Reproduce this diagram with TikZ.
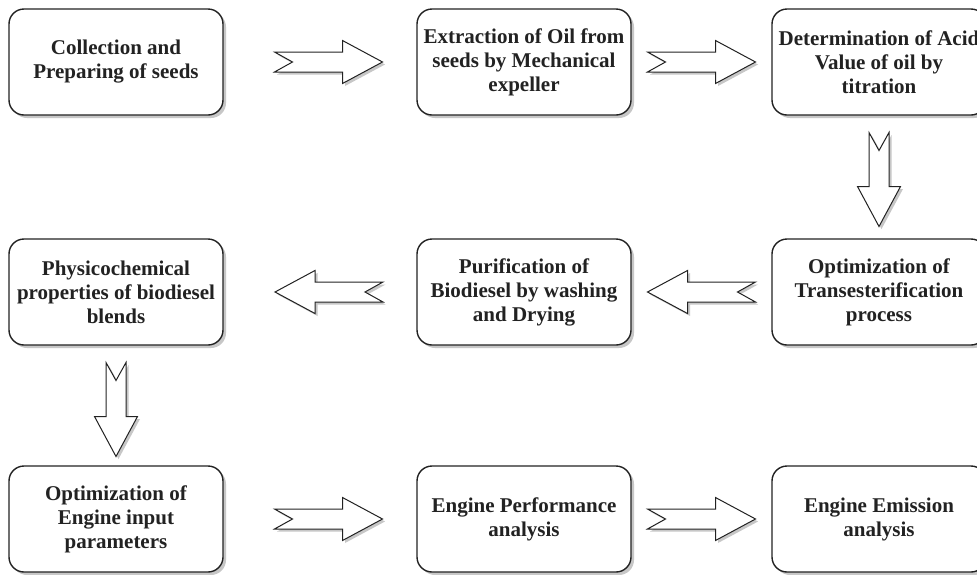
\documentclass[tikz,border=0pt]{standalone}
\usepackage{fontspec}
\setmainfont{Liberation Serif}
\usetikzlibrary{calc,shadows}
\definecolor{edgecol}{HTML}{222222}
\definecolor{shadecol}{HTML}{9A9A9A}
\newcommand\myarrowpath[1]{({-#1/2},-10) -- ({#1/2-40},-10) -- ({#1/2-40},-21.5) -- ({#1/2},0) -- ({#1/2-40},21.5) -- ({#1/2-40},10) -- ({-#1/2},10) -- ({-#1/2+18},0) -- cycle}
\tikzset{
  stepbox/.style={draw=edgecol, line width=1.4pt, fill=white, rounded corners=15pt,
    minimum width=214pt, minimum height=106pt, inner sep=0pt, align=center,
    text=edgecol, font=\bfseries\fontsize{21}{24}\selectfont,
    drop shadow={shadow xshift=3pt, shadow yshift=-3pt, fill=shadecol, opacity=0.55}},
  arrowline/.style={draw=edgecol, line width=1pt, fill=white, line join=miter},
  arrowshade/.style={fill=shadecol, opacity=0.55},
  pics/blockarrow/.style={code={
    \fill[arrowshade, transform canvas={shift={(2.5pt,-2.5pt)}}] \myarrowpath{#1};
    \draw[arrowline] \myarrowpath{#1};
  }}
}
\begin{document}
\begin{tikzpicture}[x=1pt, y=-1pt]
\useasboundingbox[fill=white] (0,0) rectangle (977,574);
% row 1
\node[stepbox] (b1) at (116,62) {Collection and\\Preparing of seeds};
\node[stepbox] (b2) at (524,62) {Extraction of Oil from\\seeds by Mechanical\\expeller};
\node[stepbox] (b3) at (879,62) {Determination of Acid\\Value of oil by\\titration};
% row 2
\node[stepbox] (b4) at (116,292) {Physicochemical\\properties of biodiesel\\blends};
\node[stepbox] (b5) at (524,292) {Purification of\\Biodiesel by washing\\and Drying};
\node[stepbox] (b6) at (879,292) {Optimization of\\Transesterification\\process};
% row 3
\node[stepbox] (b7) at (116,519) {Optimization of\\Engine input\\parameters};
\node[stepbox] (b8) at (524,519) {Engine Performance\\analysis};
\node[stepbox] (b9) at (879,519) {Engine Emission\\analysis};
% arrows
\pic at ($(b1.east)!0.5!(b2.west)+(8.5,0)$) {blockarrow=108};
\pic at ($(b2.east)!0.5!(b3.west)$) {blockarrow=108};
\pic[rotate=-90] at ($(b3.south)!0.5!(b6.north)+(0,2.5)$) {blockarrow=94};
\pic[rotate=180] at ($(b6.west)!0.5!(b5.east)$) {blockarrow=108};
\pic[rotate=180] at ($(b5.west)!0.5!(b4.east)+(9,0)$) {blockarrow=108};
\pic[rotate=-90] at ($(b4.south)!0.5!(b7.north)+(0,4)$) {blockarrow=94};
\pic at ($(b7.east)!0.5!(b8.west)+(8.5,0)$) {blockarrow=108};
\pic at ($(b8.east)!0.5!(b9.west)$) {blockarrow=108};
\end{tikzpicture}
\end{document}
